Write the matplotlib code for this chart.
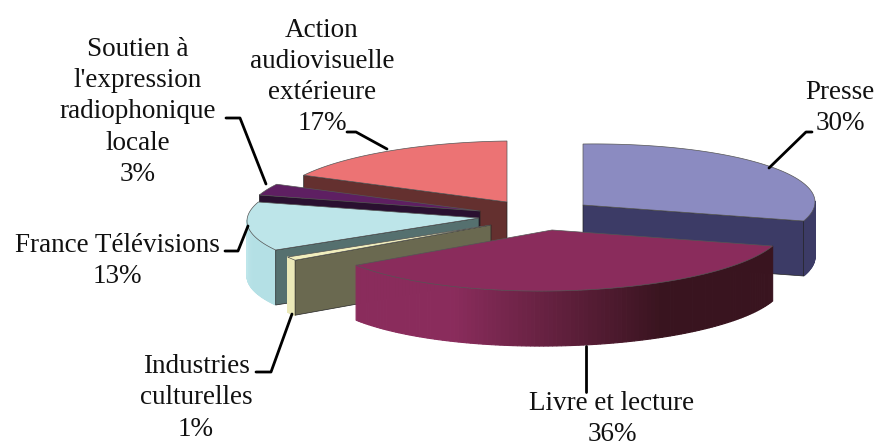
import numpy as np
import matplotlib
matplotlib.use('Agg')
import matplotlib.pyplot as plt
from matplotlib.patches import Polygon

names = ['Presse', 'Livre et lecture', 'Industries culturelles', 'France Télévisions',
         'Soutien à radiophonique', 'Action audiovisuelle']
shares = [30, 36, 1, 13, 3, 17]

top_colors = ['#8b8bc1', '#8a2c5c', '#f1eebd', '#bde5e9', '#5e1f62', '#ec7374']
cut_colors = ['#3c3b66', '#8a2c5c', '#6a6950', '#55706f', '#2a1030', '#64302f']
wall_light = ['#3c3b66', '#8a2c5c', '#ebe9b8', '#c2e8ec', '#2a1030', '#64302f']
wall_dark = ['#33325a', '#39141f', '#ebe9b8', '#b4e0e5', '#2a1030', '#64302f']

# slice apex on the page, in pixels
apex = [(583, 205), (552, 230), (491, 225), (479, 218), (480, 211), (507, 202)]
RX, RY, DEPTH, TILT = 232, 61, 55, -3

labels = [
    ('Presse\n30%', 840, 108),
    ('Livre et lecture\n36%', 612, 419),
    ('Industries\nculturelles\n1%', 196, 398),
    ('France Télévisions\n13%', 117, 261),
    ("Soutien à\nl'expression\nradiophonique\nlocale\n3%", 138, 112),
    ('Action\naudiovisuelle\nextérieure\n17%', 322, 77),
]
leaders = [
    [(769, 168), (806, 132), (812, 132)],
    [(586, 346), (586, 392)],
    [(292, 314), (271, 372), (256, 372)],
    [(248, 226), (238, 251), (225, 251)],
    [(266, 184), (240, 118), (226, 118)],
    [(387, 149), (356, 132), (347, 132)],
]


def rim(c, deg):
    a = np.radians(deg)
    return c[0] + RX * np.sin(a), c[1] - RY * np.cos(a) + TILT * np.sin(a)


def mix(c1, c2, t):
    c1 = np.array(matplotlib.colors.to_rgb(c1))
    c2 = np.array(matplotlib.colors.to_rgb(c2))
    return tuple(c1 + (c2 - c1) * t)


fig = plt.figure(figsize=(8.8, 4.47), dpi=100)
ax = fig.add_axes([0, 0, 1, 1])
ax.set_xlim(0, 880)
ax.set_ylim(447, 0)
ax.axis('off')

edges = np.cumsum([0] + shares) * 3.6
# which end of each slice shows its cut face (Livre shows none)
cut_end = [1, None, 0, 0, 0, 0]

# back slices first, the front slice last
for i in [5, 0, 4, 3, 2, 1]:
    c = apex[i]
    deg = np.linspace(edges[i], edges[i + 1], 120)
    x, y = rim(c, deg)

    # outer wall, split in strips for the shading
    for k in range(len(deg) - 1):
        if np.cos(np.radians((deg[k] + deg[k + 1]) / 2)) > 0.02:
            continue
        s = [(x[k], y[k]), (x[k + 1], y[k + 1]),
             (x[k + 1], y[k + 1] + DEPTH), (x[k], y[k] + DEPTH)]
        frac = (k + 0.5) / (len(deg) - 1)
        col = mix(wall_light[i], wall_dark[i], np.clip((0.75 - frac) / 0.41, 0, 1))
        ax.add_patch(Polygon(s, closed=True, fc=col, ec=col, lw=0.8))

    if cut_end[i] is not None:
        px, py = rim(c, edges[i + cut_end[i]])
        face = [c, (px, py), (px, py + DEPTH), (c[0], c[1] + DEPTH)]
        ax.add_patch(Polygon(face, closed=True, fc=cut_colors[i], ec='#222222', lw=0.5))

    top = np.vstack([[c], np.column_stack([x, y])])
    ax.add_patch(Polygon(top, closed=True, fc=top_colors[i], ec='#555555', lw=0.5))

for pts in leaders:
    p = np.array(pts)
    ax.plot(p[:, 0], p[:, 1], color='black', lw=2.0, solid_joinstyle='round', solid_capstyle='round')

for txt, lx, ly in labels:
    ax.text(lx, ly, txt, ha='center', va='center', family='Liberation Serif',
            fontsize=19.5, color='#111111', linespacing=1.33)

fig.savefig('out.png', dpi=100)
